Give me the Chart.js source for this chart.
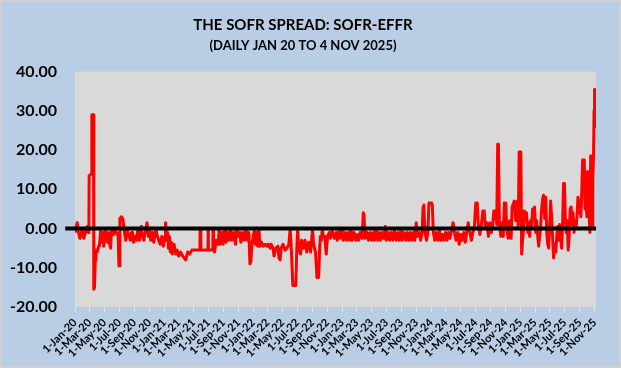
<!DOCTYPE html>
<html>
<head>
<meta charset="utf-8">
<script src="https://cdn.jsdelivr.net/npm/chart.js@4.4.1/dist/chart.umd.min.js"></script>
<style>
  html, body { margin: 0; padding: 0; background: #b9cde5; }
  #wrap { width: 621px; height: 368px; }
</style>
</head>
<body>
<div id="wrap"><canvas id="chart" width="621" height="368"></canvas></div>
<script>
// SOFR minus EFFR, basis points
const dates = [
  '2020-01-02','2020-01-06','2020-01-10','2020-01-15','2020-01-21','2020-01-27','2020-02-01','2020-02-06','2020-02-13','2020-02-20',
  '2020-02-25','2020-02-27','2020-02-28','2020-03-09','2020-03-10','2020-03-17','2020-03-18','2020-03-21','2020-03-24','2020-03-27',
  '2020-04-01','2020-04-07','2020-04-10','2020-04-15','2020-04-20','2020-04-24','2020-04-28','2020-05-05','2020-05-08','2020-05-13',
  '2020-05-18','2020-05-22','2020-05-26','2020-05-29','2020-06-02','2020-06-08','2020-06-12','2020-06-20','2020-06-26','2020-06-29',
  '2020-07-01','2020-07-03','2020-07-09','2020-07-15','2020-07-22','2020-07-27','2020-08-03','2020-08-10','2020-08-15','2020-08-20',
  '2020-08-24','2020-08-28','2020-09-03','2020-09-09','2020-09-14','2020-09-21','2020-09-28','2020-10-01','2020-10-09','2020-10-15',
  '2020-10-22','2020-10-28','2020-11-02','2020-11-06','2020-11-13','2020-11-19','2020-11-27','2020-12-02','2020-12-09','2020-12-15',
  '2020-12-22','2020-12-28',
  '2021-01-04','2021-01-06','2021-01-10','2021-01-15','2021-01-18','2021-01-22','2021-01-26','2021-01-30','2021-02-03','2021-02-10',
  '2021-02-17','2021-02-23','2021-03-01','2021-03-09','2021-03-17','2021-03-30','2021-04-07','2021-04-15','2021-04-24','2021-05-27',
  '2021-05-28','2021-05-31','2021-06-29','2021-06-30','2021-07-01','2021-07-19','2021-07-20','2021-07-22','2021-07-26','2021-08-02',
  '2021-08-10','2021-08-14','2021-08-18','2021-08-26','2021-08-30','2021-09-07','2021-09-11','2021-09-19','2021-09-23','2021-10-01',
  '2021-10-05','2021-10-14','2021-10-20','2021-10-25','2021-11-01','2021-11-07','2021-11-11','2021-11-19','2021-11-25','2021-12-02',
  '2021-12-08','2021-12-14','2021-12-18','2021-12-22','2021-12-26',
  '2022-01-01','2022-01-05','2022-01-09','2022-01-15','2022-01-19','2022-01-24','2022-01-28','2022-02-03','2022-02-11','2022-02-19',
  '2022-02-27','2022-03-03','2022-03-11','2022-03-15','2022-03-23','2022-03-27','2022-04-04','2022-04-12','2022-04-16','2022-04-21',
  '2022-04-25','2022-05-03','2022-05-11','2022-05-19','2022-05-27','2022-06-01','2022-06-05','2022-06-12','2022-06-24','2022-06-28',
  '2022-07-02','2022-07-06','2022-07-14','2022-07-18','2022-07-26','2022-08-01','2022-08-08','2022-08-16','2022-08-24','2022-09-01',
  '2022-09-05','2022-09-13','2022-09-19','2022-09-26','2022-09-30','2022-10-03','2022-10-07','2022-10-11','2022-10-15','2022-10-21',
  '2022-10-27','2022-11-01','2022-11-09','2022-11-13','2022-11-21','2022-11-29','2022-12-07','2022-12-11','2022-12-19','2022-12-23',
  '2023-01-01','2023-01-05','2023-01-13','2023-01-19','2023-01-25','2023-01-31','2023-02-06','2023-02-10','2023-02-18','2023-02-25',
  '2023-03-03','2023-03-09','2023-03-15','2023-03-23','2023-03-28','2023-03-31','2023-04-04','2023-04-12','2023-04-18','2023-04-25',
  '2023-05-01','2023-05-07','2023-05-13','2023-05-19','2023-05-26','2023-06-01','2023-06-07','2023-06-13','2023-06-20','2023-06-26',
  '2023-06-30','2023-07-08','2023-07-14','2023-07-20','2023-07-27','2023-08-02','2023-08-10','2023-08-16','2023-08-22','2023-08-30',
  '2023-09-03','2023-09-11','2023-09-18','2023-09-24','2023-09-30','2023-10-06','2023-10-12','2023-10-18','2023-10-25','2023-10-31',
  '2023-11-04','2023-11-12','2023-11-18','2023-11-24','2023-11-28','2023-12-01','2023-12-06','2023-12-12','2023-12-18','2023-12-22',
  '2023-12-28',
  '2024-01-02','2024-01-05','2024-01-09','2024-01-15','2024-01-21','2024-01-28','2024-02-03','2024-02-09','2024-02-15','2024-02-21',
  '2024-02-28','2024-03-05','2024-03-11','2024-03-17','2024-03-24','2024-03-30','2024-04-05','2024-04-11','2024-04-18','2024-04-24',
  '2024-04-30','2024-05-06','2024-05-13','2024-05-19','2024-05-25','2024-05-31','2024-06-07','2024-06-13','2024-06-19','2024-06-25',
  '2024-07-01','2024-07-07','2024-07-11','2024-07-18','2024-07-24','2024-07-30','2024-08-05','2024-08-09','2024-08-15','2024-08-22',
  '2024-08-28','2024-09-03','2024-09-09','2024-09-13','2024-09-21','2024-09-25','2024-09-29','2024-10-02','2024-10-06','2024-10-12',
  '2024-10-18','2024-10-22','2024-10-26','2024-11-01','2024-11-05','2024-11-11','2024-11-17','2024-11-23','2024-11-27','2024-12-06',
  '2024-12-12','2024-12-18','2024-12-22','2024-12-26','2024-12-31',
  '2025-01-02','2025-01-05','2025-01-09','2025-01-12','2025-01-16','2025-01-21','2025-01-25','2025-01-30','2025-02-03','2025-02-07',
  '2025-02-11','2025-02-15','2025-02-19','2025-02-23','2025-02-27','2025-03-04','2025-03-08','2025-03-12','2025-03-16','2025-03-20',
  '2025-03-24','2025-03-28','2025-04-01','2025-04-05','2025-04-10','2025-04-14','2025-04-18','2025-04-22','2025-04-26','2025-04-30',
  '2025-05-04','2025-05-08','2025-05-12','2025-05-16','2025-05-21','2025-05-25','2025-05-29','2025-06-02','2025-06-06','2025-06-10',
  '2025-06-14','2025-06-18','2025-06-22','2025-06-26','2025-06-30','2025-07-03','2025-07-07','2025-07-11','2025-07-15','2025-07-19',
  '2025-07-23','2025-07-27','2025-07-31','2025-08-04','2025-08-08','2025-08-12','2025-08-16','2025-08-20','2025-08-24','2025-08-28',
  '2025-09-01','2025-09-05','2025-09-08','2025-09-12','2025-09-19','2025-09-22','2025-09-26','2025-09-30','2025-10-02','2025-10-07',
  '2025-10-09','2025-10-12','2025-10-15','2025-10-17','2025-10-20','2025-10-22','2025-10-24','2025-10-27','2025-10-29','2025-10-31',
  '2025-11-03','2025-11-04'
];

const spread = [
  -1, 0.5, 1.5, -1, -2.5, -1, 0, -2.5, -1, 0.5,
  -1, 0, 13.5, 14, 29, 29, -15.5, -15, -8, -5.5,
  -6, -4.5, -4.5, -0.5, -3.5, -1, -4.5, 0, -2, -3.5,
  -1, -4, -5, -1, 0, -1.5, -0.5, -1, -2, -9.5,
  -9.5, 2.5, 3, 2.5, -1, -3, -0.5, -2, -3, -1,
  -1, -3.5, -2, -3, -0.5, -3, 0.5, -1, -3, -1,
  1.5, -2, -0.5, -3, -1, -3.5, 0, -1.5, -3, -4,
  -2, -4.5,
  -2, 1.5, -3, -1, -5, -2, -6, -3.5, -6.5, -4,
  -6.5, -5.5, -7, -6, -7, -8, -6, -6.5, -5.5, -5.5,
  0, -5.5, -5.5, 0, -5.5, -5.5, 0, -3, -6, -3,
  -4, 0, -4, -1, -4, 0, -3.5, -1, -3, 0,
  -3, -1, -4, 0, -2, -1, -3.5, -1, -3, 0,
  -3, -1, -9, -8.5, -4,
  -2, -0.5, -4, -1, -4.5, 0, -4.5, -3.5, -4.5, -4,
  -4.5, -4, -5, -4, -5, -7, -5, -4.5, -7.5, -8,
  -5, -4, -5.5, -5, -4, 0, -4, -14.5, -14.5, -6,
  0, -5, -6.5, -3, -5, -3, -6, -3.5, -6, 0,
  -4, -6, -12.5, -12.5, -5, -2, -3, 0, -2, -2,
  -6.5, -2, -1, -2.5, -0.5, -2.5, -1, -3, -0.5, -2.5,
  -0.5, -3, -1, -3, -1, -3, 0, -3, -1, -3,
  -1.5, -3, -1, -2.5, 4, 3.5, -2.5, -1, -3, -1,
  -3, -1, -3, 0, -3, -1, -3, -1, -2.5, 0.5,
  -3, -1, -3, -1, -3, -0.5, -3, -1, -3, 0,
  -3, -1, -3, -1, -3, -1, -3, -1, -3, 1.5,
  -2, -1, -3, -1, 5.5, 6, -1, -3, -1, 6.5,
  6.5,
  6.5, 6, -1, -3, -1, -3, -0.5, -3, -1.5, -3,
  -1, -3, -1, -2.5, -0.5, 1.5, -1, -3, -1, -4,
  -1.5, -3, -1, -3.5, -1, 1.5, -1, -3, -1, 0,
  6.5, 6.5, 1, -1.5, 1, 4.5, 4.5, 0, 1.5, -2,
  1.5, -1, 1, 4.5, 4.5, 1, 21.5, 21.5, 1, -2,
  1.5, -2, 6.5, 6.5, 0, -2.5, 2, -2.5, 5.5, 7,
  2, 7, 0, 19.5, 19.5,
  19, -6.5, -3, -1, 4.5, 2, 4, -1, 1.5, -2,
  2, 0, 5, 3, 5.5, -1, 2, -2, -4.5, -2,
  0.5, 5, 7.5, 8.5, 2.5, 8, -1, -4, -5, 1,
  7, 3, -2, -7.5, -4, -6, -2, 0.5, -3, 1,
  -2, -5, 1, 11.5, 11.5, 3, -1, 2, -5.5, -2,
  5, 5.5, 1, 4, -1, 2, 0, 3, 8, 4,
  7, 3, 8, 17.5, 17.5, 5, 6, 3, 14.5, 14.5,
  3, -1, 18.5, 8, 18.5, 0, 12, 19, 30, 35.5,
  35, 26
];

const tickLabels = [
  '1-Jan-20','1-Mar-20','1-May-20','1-Jul-20','1-Sep-20','1-Nov-20',
  '1-Jan-21','1-Mar-21','1-May-21','1-Jul-21','1-Sep-21','1-Nov-21',
  '1-Jan-22','1-Mar-22','1-May-22','1-Jul-22','1-Sep-22','1-Nov-22',
  '1-Jan-23','1-Mar-23','1-May-23','1-Jul-23','1-Sep-23','1-Nov-23',
  '1-Jan-24','1-Mar-24','1-May-24','1-Jul-24','1-Sep-24','1-Nov-24',
  '1-Jan-25','1-Mar-25','1-May-25','1-Jul-25','1-Sep-25','1-Nov-25'
];

const monthIdx = {Jan:0,Feb:1,Mar:2,Apr:3,May:4,Jun:5,Jul:6,Aug:7,Sep:8,Oct:9,Nov:10,Dec:11};
const base = Date.UTC(2020, 0, 1);

// days since 1-Jan-2020
function dayOf(s) {
  const p = s.split('-');
  return (Date.UTC(+p[0], +p[1] - 1, +p[2]) - base) / 86400000;
}
function dayOfLabel(l) {
  const p = l.split('-');
  return (Date.UTC(2000 + +p[2], monthIdx[p[1]], +p[0]) - base) / 86400000;
}

const tickDays = tickLabels.map(dayOfLabel);
const xMin = 0;
const xMax = dayOf('2025-11-06');

const points = dates.map((d, i) => ({x: dayOf(d), y: spread[i]}));

const bgPlugin = {
  id: 'bg',
  beforeDraw(chart) {
    const ctx = chart.ctx;
    const a = chart.chartArea;
    ctx.save();
    ctx.fillStyle = '#b9cde5';
    ctx.fillRect(0, 0, chart.width, chart.height);
    ctx.strokeStyle = '#d0d0d0';
    ctx.lineWidth = 2;
    ctx.strokeRect(1, 1, chart.width - 2, chart.height - 2);
    ctx.fillStyle = '#d9d9d9';
    ctx.fillRect(a.left, a.top, a.right - a.left, a.bottom - a.top);
    ctx.restore();
  }
};

new Chart(document.getElementById('chart'), {
  type: 'line',
  data: {
    datasets: [
      {
        label: 'zero',
        data: [{x: xMin - 40, y: 0}, {x: xMax, y: 0}],
        borderColor: '#000000',
        borderWidth: 4,
        pointRadius: 0,
        clip: {left: 10, right: 0, top: 0, bottom: 0}
      },
      {
        label: 'SOFR-EFFR',
        data: points,
        borderColor: '#ff0000',
        borderWidth: 3,
        borderJoinStyle: 'round',
        pointRadius: 0,
        tension: 0
      }
    ]
  },
  options: {
    responsive: false,
    animation: false,
    layout: {padding: {left: 10, right: 25, top: 8, bottom: 0}},
    plugins: {
      legend: {display: false},
      tooltip: {enabled: false},
      title: {
        display: true,
        text: 'THE SOFR SPREAD: SOFR-EFFR',
        color: '#000',
        font: {family: 'Lato', size: 15, weight: 'bold'},
        padding: {top: 8, bottom: 4}
      },
      subtitle: {
        display: true,
        text: '(DAILY JAN 20 TO 4 NOV 2025)',
        color: '#000',
        font: {family: 'Lato', size: 13, weight: 'bold'},
        padding: {top: 0, bottom: 18}
      }
    },
    scales: {
      x: {
        type: 'linear',
        min: xMin,
        max: xMax,
        border: {display: false},
        grid: {drawOnChartArea: false, drawTicks: true, tickLength: 5, color: '#e4e4e4'},
        afterBuildTicks(scale) {
          scale.ticks = tickDays.map(v => ({value: v}));
        },
        afterFit(scale) {
          scale.height = 61;
          scale.paddingLeft = 0;
          scale.paddingRight = 0;
        },
        ticks: {
          autoSkip: false,
          minRotation: 45,
          maxRotation: 45,
          padding: 4,
          color: '#000',
          font: {family: 'Lato', size: 11, weight: 'bold'},
          callback(v) {
            const i = tickDays.indexOf(v);
            return i >= 0 ? tickLabels[i] : '';
          }
        }
      },
      y: {
        min: -20,
        max: 40,
        border: {display: false},
        grid: {display: false, drawTicks: false},
        afterFit(scale) {
          scale.width = 65;
        },
        ticks: {
          stepSize: 10,
          padding: 18,
          color: '#000',
          font: {family: 'Lato', size: 16, weight: 'bold'},
          callback: v => v.toFixed(2)
        }
      }
    }
  },
  plugins: [bgPlugin]
});
</script>
</body>
</html>
